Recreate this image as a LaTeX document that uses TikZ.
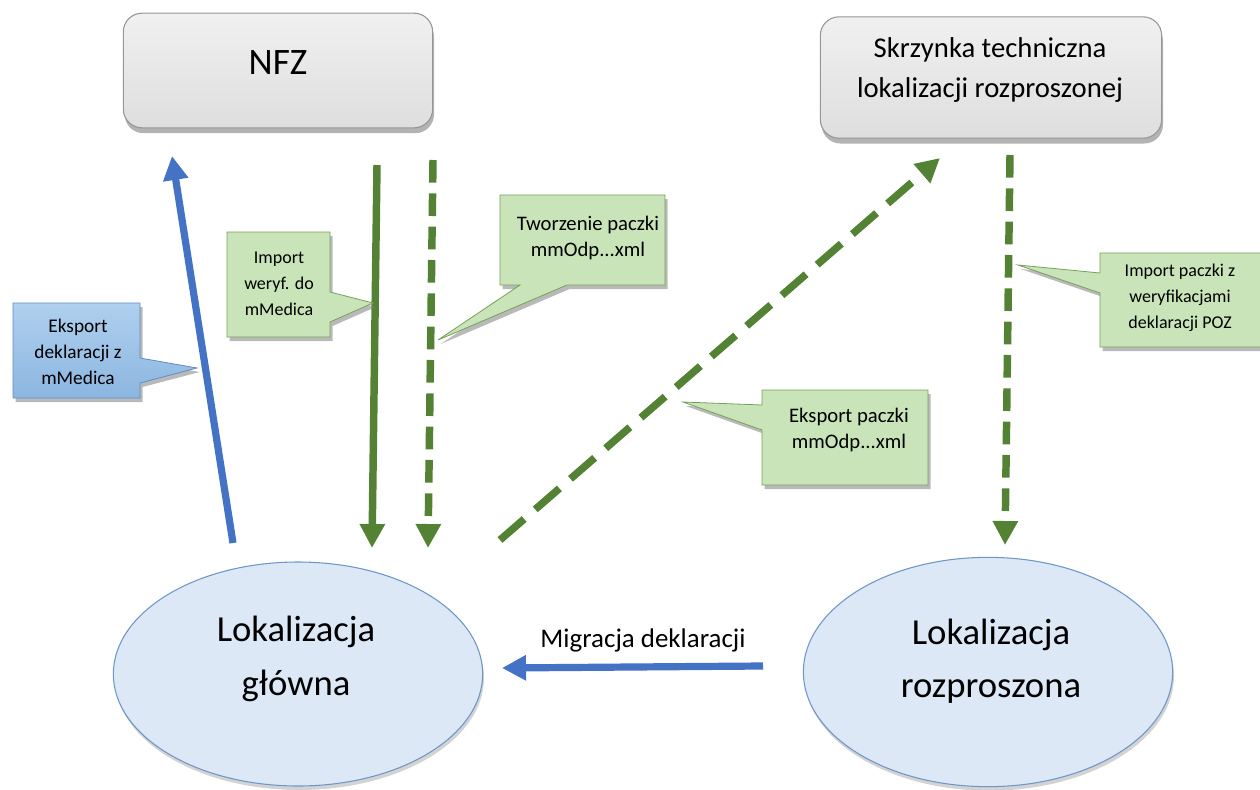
\documentclass[tikz,border=0pt]{standalone}
\usepackage{fontspec}
\setmainfont{Carlito}
\usetikzlibrary{arrows.meta,shapes.geometric,shadows}
\definecolor{agreen}{RGB}{84,130,53}
\definecolor{ablue}{RGB}{68,114,196}
\definecolor{boxtop}{RGB}{240,240,240}
\definecolor{boxbot}{RGB}{222,222,222}
\definecolor{boxdraw}{RGB}{150,150,150}
\definecolor{ellfill}{RGB}{220,232,245}
\definecolor{elldraw}{RGB}{110,150,200}
\definecolor{cgfill}{RGB}{200,228,184}
\definecolor{cgdraw}{RGB}{120,160,90}
\definecolor{cbtop}{RGB}{175,208,238}
\definecolor{cbbot}{RGB}{140,182,224}
\definecolor{cbdraw}{RGB}{95,140,195}
\tikzset{
  gbox/.style={rectangle, rounded corners=14pt, draw=boxdraw, line width=0.8pt,
    top color=boxtop, bottom color=boxbot,
    drop shadow={shadow xshift=1pt, shadow yshift=-4pt, opacity=.6}},
  ell/.style={ellipse, draw=elldraw, line width=0.8pt, fill=ellfill,
    drop shadow={shadow xshift=1pt, shadow yshift=-3pt, opacity=.35}},
  cg/.style={fill=cgfill, draw=cgdraw, line width=0.6pt,
    drop shadow={shadow xshift=2pt, shadow yshift=-3pt, opacity=.55}},
  cb/.style={top color=cbtop, bottom color=cbbot, draw=cbdraw, line width=0.6pt,
    drop shadow={shadow xshift=2pt, shadow yshift=-3pt, opacity=.55}},
  ctext/.style={align=center, inner sep=0pt, font=\fontsize{13.5}{19.5}\selectfont},
  garrow/.style={draw=agreen, line width=5.6pt, -{Triangle[width=18pt,length=18pt]}},
  gdash/.style={garrow, dash pattern=on 17pt off 8pt},
  barrow/.style={draw=ablue, line width=5.4pt, -{Triangle[width=18pt,length=18pt]}},
  elltext/.style={align=center, font=\fontsize{27.5}{40}\selectfont},
}
\begin{document}
\begin{tikzpicture}[x=0.75pt,y=-0.75pt]
\useasboundingbox (0,0) rectangle (1260,789);

% boxes
\node[gbox, minimum width=232pt, minimum height=86pt] (nfz) at (278,70.5) {};
\node[font=\fontsize{28}{33}\selectfont] (nfzt) at (278,63) {NFZ};
\node[gbox, minimum width=256pt, minimum height=91pt] (skr) at (991,77.5) {};
\node[align=center, font=\fontsize{21.5}{30}\selectfont] (skrt) at (990,70) {Skrzynka techniczna\\lokalizacji rozproszonej};

% ellipses
\node[ell, minimum width=277pt, minimum height=168pt] (lg) at (298,674) {};
\node[elltext] (lgt) at (296,659) {Lokalizacja\\główna};
\node[ell, minimum width=277pt, minimum height=172pt] (lr) at (988,672) {};
\node[elltext] (lrt) at (991,661) {Lokalizacja\\rozproszona};

% arrow end points
\coordinate (b1s) at (233,543);
\coordinate (b1e) at (172,156);
\coordinate (g1s) at (377,165);
\coordinate (g1e) at (372,548);
\coordinate (g2s) at (433,160);
\coordinate (g2e) at (428,548);
\coordinate (g3s) at (500,540);
\coordinate (g3e) at (940,158);
\coordinate (g4s) at (1010,155);
\coordinate (g4e) at (1005,545);
\coordinate (ms) at (763,666);
\coordinate (me) at (502,668);

\draw[barrow] (b1s) -- (b1e);
\draw[garrow] (g1s) -- (g1e);
\draw[gdash] (g2s) -- (g2e);
\draw[gdash, dash pattern=on 24pt off 11pt] (g3s) -- (g3e);
\draw[gdash] (g4s) -- (g4e);
\draw[barrow] (ms) -- (me);
\node[font=\fontsize{20.2}{24}\selectfont] (mig) at (643,640) {Migracja deklaracji};

% callouts
\path[cb] (13,303) -- (140,303) -- (140,358) -- (197,368) -- (140,383) -- (140,398) -- (13,398) -- cycle;
\node[ctext, font=\fontsize{14.5}{19.5}\selectfont] (c1) at (78,352) {Eksport\\deklaracji z\\mMedica};

\path[cg] (227,232) -- (330,232) -- (330,292) -- (373,303) -- (330,322) -- (330,337) -- (227,337) -- cycle;
\node[ctext] (c2) at (279,284) {Import\\weryf. do\\mMedica};

\path[cg] (500,195) -- (665,195) -- (665,285) -- (567,285) -- (438,340) -- (520,285) -- (500,285) -- cycle;
\node[ctext, font=\fontsize{15.5}{20}\selectfont] (c3) at (588,238) {Tworzenie paczki\\mmOdp...xml};

\path[cg] (762,390) -- (928,390) -- (928,485) -- (762,485) -- (762,430) -- (683,402) -- (762,405) -- cycle;
\node[ctext, font=\fontsize{15.5}{20}\selectfont] (c4) at (849,430) {Eksport paczki\\mmOdp...xml};

\path[cg] (1100,253) -- (1262,253) -- (1262,347) -- (1100,347) -- (1100,293) -- (1018,265) -- (1100,273) -- cycle;
\node[ctext] (c5) at (1180,298) {Import paczki z\\weryfikacjami\\deklaracji POZ};
\end{tikzpicture}
\end{document}
